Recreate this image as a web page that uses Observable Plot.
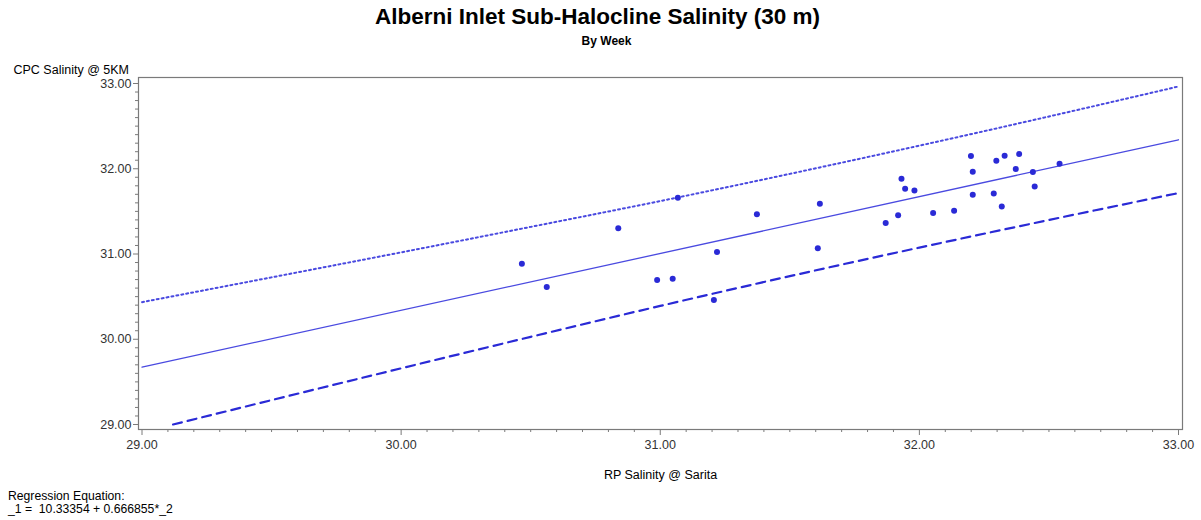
<!DOCTYPE html>
<html>
<head>
<meta charset="utf-8">
<script src="https://cdn.jsdelivr.net/npm/d3@7"></script>
<script src="https://cdn.jsdelivr.net/npm/@observablehq/plot@0.6"></script>
<style>
  body { margin: 0; background: #fff; font-family: "Liberation Sans", Arial, sans-serif; }
  #wrap { position: relative; width: 1201px; height: 520px; overflow: hidden; }
  #title { position: absolute; top: 4px; left: -3px; width: 1201px; text-align: center; font-weight: bold; font-size: 22.5px; line-height: 26px; color: #000; }
  #subtitle { position: absolute; top: 34px; left: 6px; width: 1201px; text-align: center; font-weight: bold; font-size: 12px; line-height: 14px; color: #000; }
  #chart { position: absolute; top: 50px; left: 0; }
  #caption { position: absolute; top: 490px; left: 8px; font-size: 12.2px; line-height: 13px; color: #000; white-space: pre; }
</style>
</head>
<body>
<div id="wrap">
  <div id="title">Alberni Inlet Sub-Halocline Salinity (30 m)</div>
  <div id="subtitle">By Week</div>
  <div id="chart"></div>
  <div id="caption">Regression Equation:
_1 =  10.33354 + 0.666855*_2</div>
</div>
<script>
// Observations: RP Salinity @ Sarita (x) vs CPC Salinity @ 5KM (y)
const rpSalinity = [30.466, 30.562, 30.838, 30.988, 31.048, 31.068, 31.207, 31.219, 31.373, 31.608,
  31.616, 31.870, 31.918, 31.931, 31.945, 31.981, 32.053, 32.134, 32.199, 32.206,
  32.206, 32.287, 32.297, 32.318, 32.329, 32.372, 32.385, 32.438, 32.445, 32.541];
const cpcSalinity = [30.887, 30.612, 31.302, 30.694, 30.711, 31.659, 30.459, 31.024, 31.467, 31.067,
  31.588, 31.365, 31.455, 31.882, 31.765, 31.746, 31.482, 31.506, 32.149, 31.965,
  31.694, 31.711, 32.094, 31.558, 32.153, 31.996, 32.173, 31.961, 31.793, 32.059];

// Regression line (from caption equation) endpoints
const fitX = [29, 33];
const fitY = [29.672, 32.340];

// Upper limit (dotted)
const upperX = [29, 29.5, 30, 30.5, 31, 31.5, 32, 32.5, 33];
const upperY = [30.435, 30.726, 31.019, 31.318, 31.621, 31.940, 32.271, 32.613, 32.965];

// Lower limit (dashed)
const lowerX = [29.12, 29.5, 30, 30.5, 31, 31.5, 32, 32.5, 33];
const lowerY = [29.000, 29.286, 29.659, 30.028, 30.391, 30.740, 31.075, 31.399, 31.715];

const majorTicks = [29, 30, 31, 32, 33];
const minorTicks = d3.range(290, 331).filter(v => v % 10 !== 0).map(v => v / 10);

const xLabel = "RP Salinity @ Sarita";
const yLabel = "CPC Salinity @ 5KM";

const points = rpSalinity.map((x, i) => ({x, y: cpcSalinity[i]}));
const fit = fitX.map((x, i) => ({x, y: fitY[i]}));
const upper = upperX.map((x, i) => ({x, y: upperY[i]}));
const lower = lowerX.map((x, i) => ({x, y: lowerY[i]}));

const axisColor = "#7a7a7a";
const textColor = "#333";
const blue = "#2a2ad6";
const lineBlue = "#4a4ae0";
const fs = 12.5;

const chart = Plot.plot({
  width: 1201,
  height: 435,
  marginLeft: 138,
  marginRight: 19,
  marginTop: 27,
  marginBottom: 56,
  style: { fontFamily: "'Liberation Sans', Arial, sans-serif", fontSize: "12.5px", color: textColor, background: "#fff" },
  x: { domain: [29, 33], insetLeft: 3.5, insetRight: 4 },
  y: { domain: [29, 33], insetTop: 6, insetBottom: 5 },
  marks: [
    Plot.frame({ stroke: axisColor, strokeWidth: 1.2 }),
    Plot.axisY(majorTicks, { tickSize: 5, tickPadding: 2, stroke: axisColor, fill: textColor, tickFormat: d => d.toFixed(2), label: null, fontSize: fs }),
    Plot.axisY(minorTicks, { tickSize: 3, text: null, stroke: axisColor, label: null }),
    Plot.axisX(majorTicks, { tickSize: 6, tickPadding: 5, stroke: axisColor, fill: textColor, tickFormat: d => d.toFixed(2), label: null, fontSize: fs }),
    Plot.axisX(minorTicks, { tickSize: 3, text: null, stroke: axisColor, label: null }),
    Plot.text([yLabel], { frameAnchor: "top-left", dx: -125, dy: -8, textAnchor: "start", lineAnchor: "middle", fontSize: fs, fill: "#000" }),
    Plot.text([xLabel], { frameAnchor: "bottom", dy: 45, lineAnchor: "middle", fontSize: fs, fill: "#000" }),
    Plot.line(upper, { x: "x", y: "y", stroke: lineBlue, strokeWidth: 2, strokeDasharray: "2,3", curve: "monotone-x", clip: true }),
    Plot.line(lower, { x: "x", y: "y", stroke: blue, strokeWidth: 2.2, strokeDasharray: "9,6", curve: "monotone-x", clip: true }),
    Plot.line(fit, { x: "x", y: "y", stroke: lineBlue, strokeWidth: 1.3, clip: true }),
    Plot.dot(points, { x: "x", y: "y", r: 3, fill: blue, stroke: "none" })
  ]
});
document.getElementById("chart").appendChild(chart);
</script>
</body>
</html>
